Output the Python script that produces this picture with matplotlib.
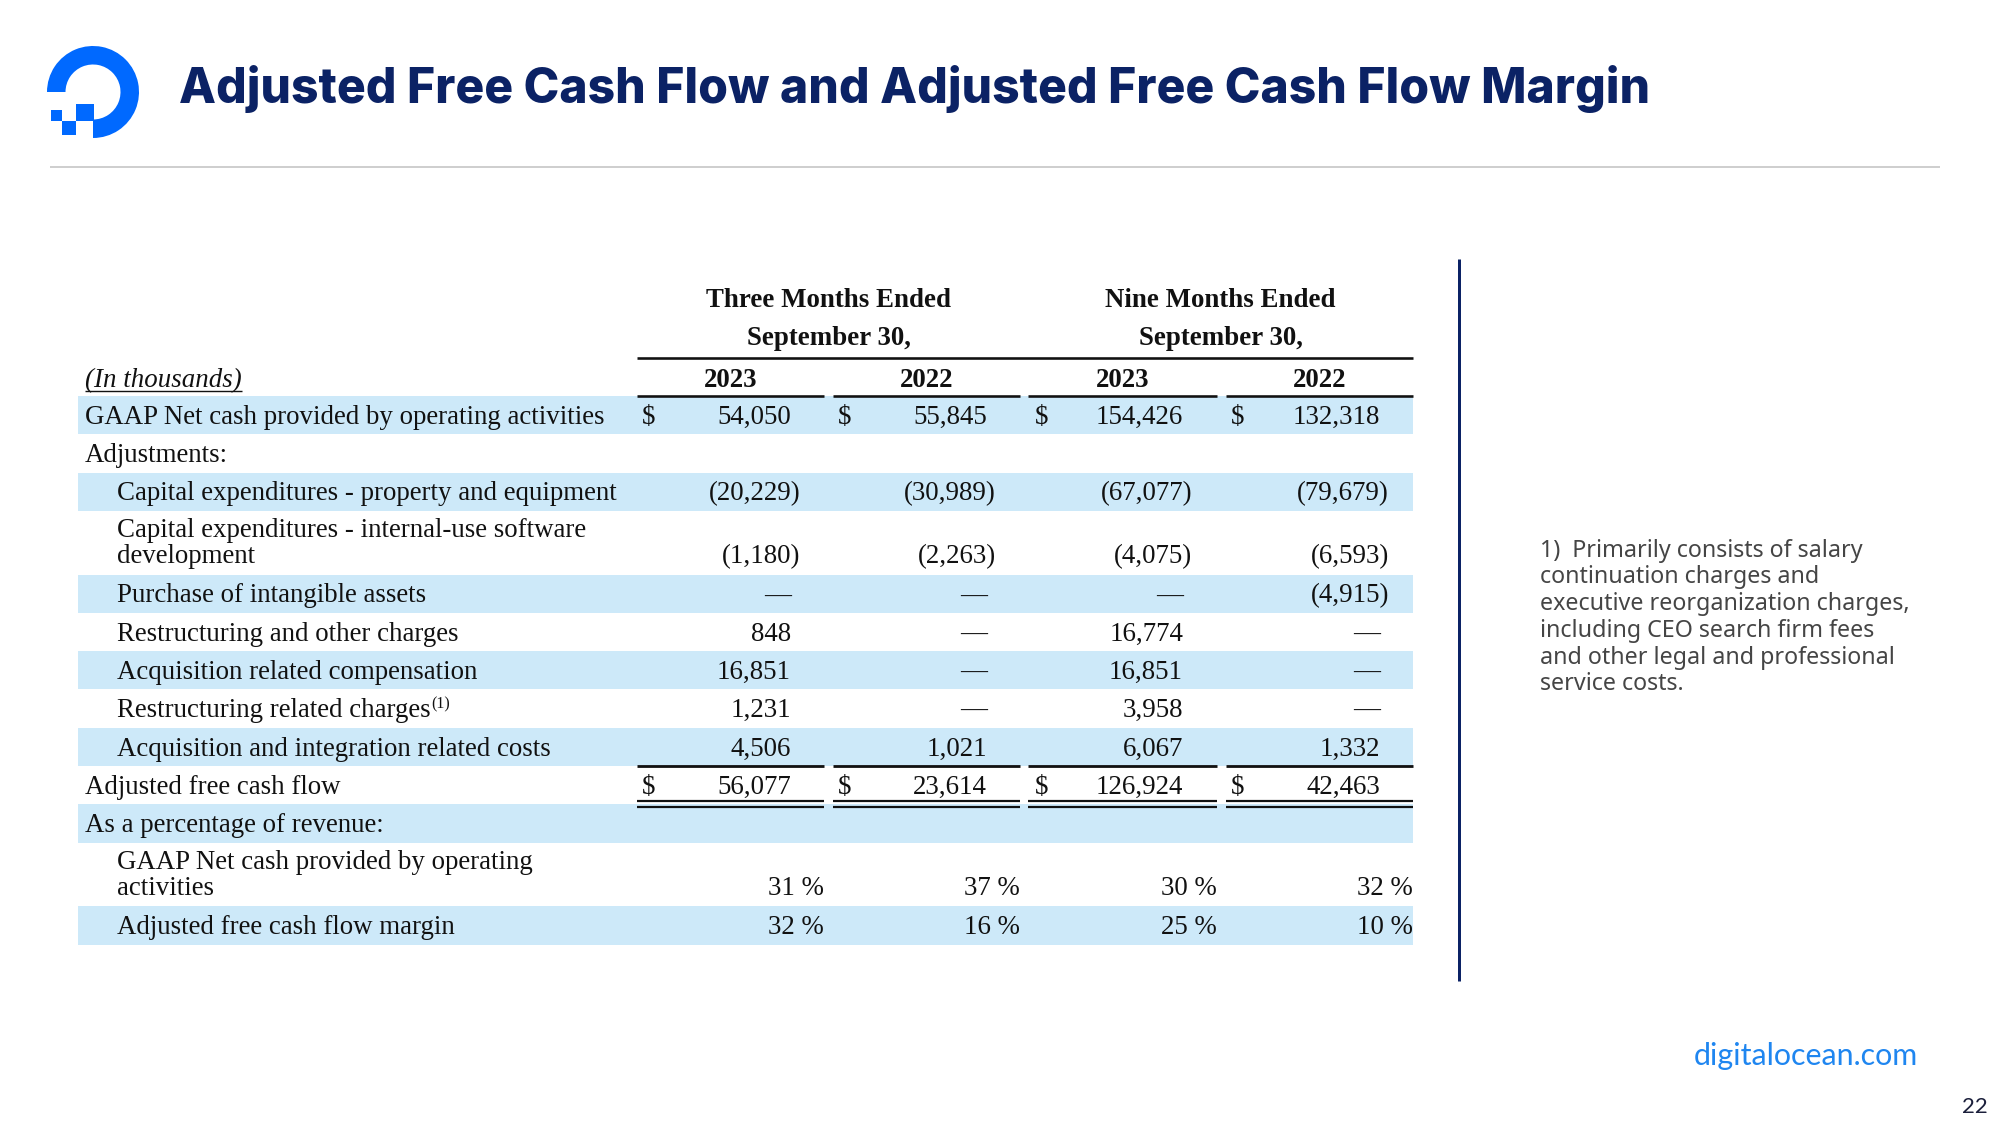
import matplotlib
matplotlib.use("Agg")
import matplotlib.pyplot as plt
from matplotlib.patches import Wedge, Rectangle

# ---------------- data ----------------
title = "Adjusted Free Cash Flow and Adjusted Free Cash Flow Margin"
group_headers = [["Three Months Ended", "September 30,"], ["Nine Months Ended", "September 30,"]]
years = ["2023", "2022", "2023", "2022"]
units_label = "(In thousands)"

row_labels = [
    "GAAP Net cash provided by operating activities",
    "Adjustments:",
    "Capital expenditures - property and equipment",
    "Capital expenditures - internal-use software\ndevelopment",
    "Purchase of intangible assets",
    "Restructuring and other charges",
    "Acquisition related compensation",
    "Restructuring related charges",
    "Acquisition and integration related costs",
    "Adjusted free cash flow",
    "As a percentage of revenue:",
    "GAAP Net cash provided by operating\nactivities",
    "Adjusted free cash flow margin",
]
row_indent = [0, 0, 1, 1, 1, 1, 1, 1, 1, 0, 0, 1, 1]
row_kind = ["$", None, "n", "n", "n", "n", "n", "n", "n", "$", None, "%", "%"]
row_footnote = [None, None, None, None, None, None, None, "(1)", None, None, None, None, None]

q3_2023 = [54050, None, -20229, -1180, 0, 848, 16851, 1231, 4506, 56077, None, 31, 32]
q3_2022 = [55845, None, -30989, -2263, 0, 0, 0, 0, 1021, 23614, None, 37, 16]
ytd_2023 = [154426, None, -67077, -4075, 0, 16774, 16851, 3958, 6067, 126924, None, 30, 25]
ytd_2022 = [132318, None, -79679, -6593, -4915, 0, 0, 0, 1332, 42463, None, 32, 10]
columns = [q3_2023, q3_2022, ytd_2023, ytd_2022]

footnote_lines = [
    "1)  Primarily consists of salary",
    "continuation charges and",
    "executive reorganization charges,",
    "including CEO search firm fees",
    "and other legal and professional",
    "service costs.",
]
footer_url = "digitalocean.com"
page_number = "22"

# ---------------- styles / layout ----------------
NAVY = "#0b2265"
BLUE = "#0069ff"
BAND = "#cde9f9"
INK = "#111111"
SERIF = "Liberation Serif"
TSIZE = 19.4
PX = 0.72  # px -> pt at dpi 100

fig = plt.figure(figsize=(20, 11.25), dpi=100)
ax = fig.add_axes([0, 0, 1, 1])
ax.set_xlim(0, 2000)
ax.set_ylim(1125, 0)
ax.axis("off")
renderer = fig.canvas.get_renderer()


def fit(t, target_w):
    bb = t.get_window_extent(renderer=renderer)
    t.set_fontsize(t.get_fontsize() * target_w / bb.width)


# logo
ax.add_patch(Wedge((93, 92), 46, -180, 90, width=18.5, color=BLUE, lw=0))
ax.add_patch(Rectangle((76, 103.5), 17.5, 17.5, color=BLUE, lw=0))
ax.add_patch(Rectangle((62, 121), 14, 13.5, color=BLUE, lw=0))
ax.add_patch(Rectangle((51, 110), 11, 11, color=BLUE, lw=0))

# title
t = ax.text(179, 103, title, fontsize=34, fontfamily="Inter", fontweight="heavy",
            color=NAVY, ha="left", va="baseline")
fit(t, 1468)

ax.plot([50, 1940], [167, 167], color="#cfcfcf", lw=2 * PX, solid_capstyle="butt")

# ---------------- table ----------------
band_x0, band_x1 = 78, 1413
seg = [(637, 824), (833, 1020), (1028, 1217), (1226, 1413)]
num_right = [791, 987, 1183, 1380]
dollar_x = [649, 845, 1042, 1238]
label_x = [85, 117]
row_top0 = 396
single_h, double_h = 38.3, 63.7

# headers
group_centers = [(seg[0][0] + seg[1][1]) / 2, (seg[2][0] + seg[3][1]) / 2]
for gc, hdr in zip(group_centers, group_headers):
    ax.text(gc, 307, hdr[0], fontsize=TSIZE, fontfamily=SERIF, fontweight="bold",
            color=INK, ha="center", va="baseline")
    ax.text(gc, 345, hdr[1], fontsize=TSIZE, fontfamily=SERIF, fontweight="bold",
            color=INK, ha="center", va="baseline")
ax.plot([seg[0][0], seg[3][1]], [358, 358], color=INK, lw=2.6 * PX, solid_capstyle="butt")
for (a, b), yr in zip(seg, years):
    ax.text((a + b) / 2, 387, yr, fontsize=TSIZE, fontfamily=SERIF, fontweight="bold",
            color=INK, ha="center", va="baseline")
    ax.plot([a, b], [396, 396], color=INK, lw=2.6 * PX, solid_capstyle="butt")

ut = ax.text(label_x[0], 387, units_label, fontsize=TSIZE, fontfamily=SERIF,
             style="italic", color=INK, ha="left", va="baseline")
bb = ut.get_window_extent(renderer=renderer)
ax.plot([label_x[0], label_x[0] + bb.width], [391, 391], color=INK, lw=1.4 * PX,
        solid_capstyle="butt")


def fmt(v, kind):
    if v is None:
        return ""
    if kind == "%":
        return f"{v} %"
    if v == 0:
        return "\u2014"
    if v < 0:
        return f"({-v:,})"
    return f"{v:,}"


y = row_top0
row_bottoms = []
for i, lab in enumerate(row_labels):
    nlines = lab.count("\n") + 1
    h = single_h if nlines == 1 else double_h
    if i % 2 == 0:
        ax.add_patch(Rectangle((band_x0, y), band_x1 - band_x0, h, color=BAND, lw=0, zorder=0))
    lines = lab.split("\n")
    if nlines == 1:
        bases = [y + 27.8]
    else:
        bases = [y + 26.5, y + 52]
    for ln, bl in zip(lines, bases):
        tt = ax.text(label_x[row_indent[i]], bl, ln, fontsize=TSIZE, fontfamily=SERIF,
                     color=INK, ha="left", va="baseline")
    if row_footnote[i]:
        bb = tt.get_window_extent(renderer=renderer)
        ax.text(label_x[row_indent[i]] + bb.width + 1, bases[-1] - 9, row_footnote[i],
                fontsize=11.5, fontfamily=SERIF, color=INK, ha="left", va="baseline")
    vb = bases[-1]
    kind = row_kind[i]
    for c, col in enumerate(columns):
        s = fmt(col[i], kind)
        if not s:
            continue
        if kind == "%":
            ax.text(seg[c][1], vb, s, fontsize=TSIZE, fontfamily=SERIF, color=INK,
                    ha="right", va="baseline")
        else:
            xr = num_right[c] + (9 if s.startswith("(") else 0)
            ax.text(xr, vb, s, fontsize=TSIZE, fontfamily=SERIF, color=INK,
                    ha="right", va="baseline")
            if kind == "$":
                ax.text(dollar_x[c], vb, "$", fontsize=TSIZE, fontfamily=SERIF, color=INK,
                        ha="center", va="baseline")
    y += h
    row_bottoms.append(y)

# rules under subtotal and total
idx_sub = row_labels.index("Acquisition and integration related costs")
idx_tot = row_labels.index("Adjusted free cash flow")
for a, b in seg:
    ax.plot([a, b], [row_bottoms[idx_sub], row_bottoms[idx_sub]], color=INK, lw=2.8 * PX,
            solid_capstyle="butt")
    yb = row_bottoms[idx_tot]
    ax.plot([a, b], [yb - 3.5, yb - 3.5], color=INK, lw=2.2 * PX, solid_capstyle="butt")
    ax.plot([a, b], [yb + 3, yb + 3], color=INK, lw=2.2 * PX, solid_capstyle="butt")

# right panel
ax.plot([1459, 1459], [259, 981], color=NAVY, lw=3 * PX, solid_capstyle="butt")
fy = 556.7
ft_objs = []
for ln in footnote_lines:
    ft_objs.append(ax.text(1540, fy, ln, fontsize=15, fontfamily="Noto Sans",
                           color="#454545", ha="left", va="baseline"))
    fy += 26.7
bb = ft_objs[2].get_window_extent(renderer=renderer)
scale = 371 / bb.width
for o in ft_objs:
    o.set_fontsize(o.get_fontsize() * scale)

# footer
fu = ax.text(1694, 1065, footer_url, fontsize=18.5, fontfamily="Lato", color="#1f86f0",
             ha="left", va="baseline")
fit(fu, 225)
ax.text(1988, 1113, page_number, fontsize=16, fontfamily="Lato", color="#1b1f3b",
        ha="right", va="baseline")

fig.savefig("out.png", dpi=100, facecolor="white")
